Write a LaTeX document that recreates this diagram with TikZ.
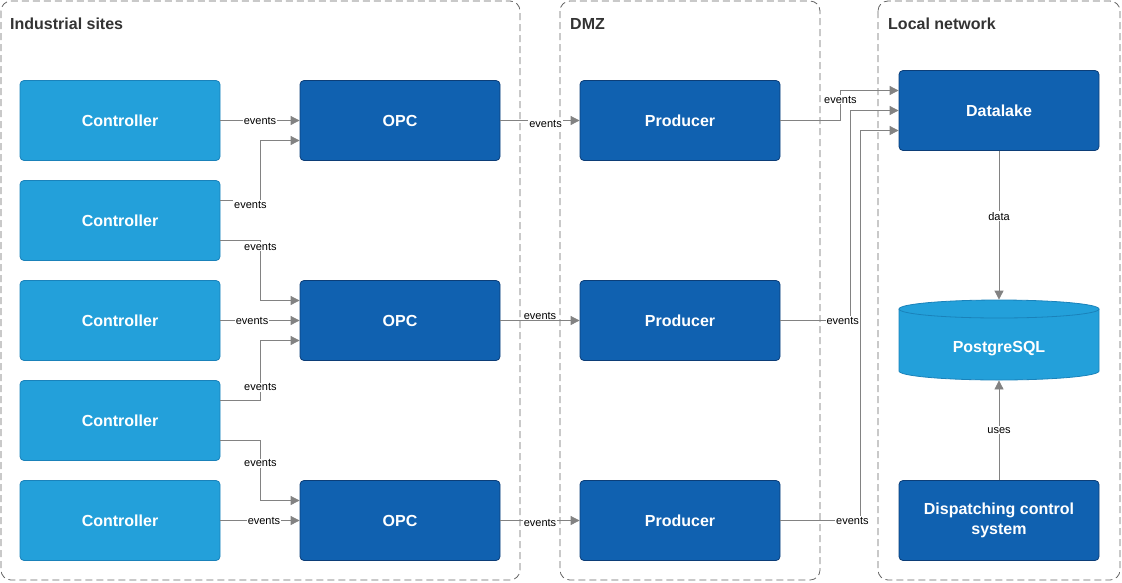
\documentclass[tikz,border=0pt]{standalone}
\usepackage{fontspec}
\setmainfont{Liberation Sans}
\usetikzlibrary{arrows.meta}

\definecolor{ctrlfill}{HTML}{23A0DA}
\definecolor{ctrlline}{HTML}{1A82BA}
\definecolor{svcfill}{HTML}{1061B0}
\definecolor{svcline}{HTML}{0C3E78}
\definecolor{zoneline}{HTML}{666666}
\definecolor{titlegray}{HTML}{333333}
\definecolor{flowgray}{HTML}{828282}

\tikzset{
  box/.style={rectangle, rounded corners=4pt, minimum width=200pt, minimum height=80pt,
    text=white, align=center, line width=0.8pt, font=\fontsize{16}{20}\selectfont\bfseries},
  ctrl/.style={box, fill=ctrlfill, draw=ctrlline},
  svc/.style={box, fill=svcfill, draw=svcline},
  zone/.style={draw=zoneline, line width=0.8pt, dash pattern=on 7pt off 4pt, rounded corners=10pt},
  title/.style={anchor=west, inner sep=0pt, text=titlegray, font=\fontsize{16}{18}\selectfont\bfseries},
  flow/.style={draw=flowgray, line width=0.8pt, -{Triangle[length=9pt,width=9pt]}},
  lbl/.style={fill=white, inner sep=1pt, text=black, font=\fontsize{11}{13}\selectfont},
}

\begin{document}
\begin{tikzpicture}[x=1pt, y=-1pt]
		\useasboundingbox (0,0) rectangle (1122,582);
		% zones
		\draw[zone] (1,1) rectangle (520,580);
		\draw[zone] (560,1) rectangle (820,580);
		\draw[zone] (878,1) rectangle (1120,580);
		\node[title] (tind) at (10,24) {Industrial sites};
		\node[title] (tdmz) at (570,24) {DMZ};
		\node[title] (tloc) at (888,24) {Local network};
		% controllers
		\node[ctrl] (c1) at (120,120.5) {Controller};
		\node[ctrl] (c2) at (120,220.5) {Controller};
		\node[ctrl] (c3) at (120,320.5) {Controller};
		\node[ctrl] (c4) at (120,420.5) {Controller};
		\node[ctrl] (c5) at (120,520.5) {Controller};
		% opc and producers
		\node[svc] (opc1) at (400,120.5) {OPC};
		\node[svc] (opc2) at (400,320.5) {OPC};
		\node[svc] (opc3) at (400,520.5) {OPC};
		\node[svc] (p1) at (680,120.5) {Producer};
		\node[svc] (p2) at (680,320.5) {Producer};
		\node[svc] (p3) at (680,520.5) {Producer};
		% local network
		\node[svc] (dl) at (999,110.5) {Datalake};
		\node[svc] (dcs) at (999,520.5) {Dispatching control\\system};
		\fill[ctrlfill] (899,309) -- (899,371) arc[start angle=180, end angle=360, x radius=100pt, y radius=9pt]
			-- (1099,309) arc[start angle=0, end angle=180, x radius=100pt, y radius=9pt] -- cycle;
		\draw[ctrlline, line width=0.8pt] (899,309) -- (899,371) arc[start angle=180, end angle=360, x radius=100pt, y radius=9pt]
			-- (1099,309) arc[start angle=0, end angle=180, x radius=100pt, y radius=9pt];
		\draw[ctrlline, line width=0.8pt] (899,309) arc[start angle=180, end angle=360, x radius=100pt, y radius=9pt];
		\node[box, minimum height=80pt] (pg) at (999,340) {};
		\node[box, minimum height=0pt, minimum width=0pt] (pgname) at (999,349) {PostgreSQL};
		% controllers to opc
		\draw[flow] (c1) -- node[lbl]{events} (opc1);
		\draw[flow] ([yshift=20pt]c2.east) -- node[lbl, pos=0.75, yshift=-4pt]{events} ++(40,0) |- ([yshift=-20pt]opc1.west);
		\draw[flow] ([yshift=-20pt]c2.east) -- ++(40,0) node[lbl, yshift=-6pt]{events} |- ([yshift=20pt]opc2.west);
		\draw[flow] (c3) -- node[lbl, pos=0.4]{events} (opc2);
		\draw[flow] ([yshift=20pt]c4.east) -- ++(40,0) |- node[lbl, pos=0.11]{events} ([yshift=-20pt]opc2.west);
		\draw[flow] ([yshift=-20pt]c4.east) -- ++(40,0) |- node[lbl, pos=0.19]{events} ([yshift=20pt]opc3.west);
		\draw[flow] (c5) -- node[lbl, pos=0.55]{events} (opc3);
		% opc to producers
		\draw[flow] (opc1) -- node[lbl, pos=0.57, yshift=-3pt]{events} (p1);
		\draw[flow] (opc2) -- node[lbl, yshift=5pt]{events} (p2);
		\draw[flow] (opc3) -- node[lbl, yshift=-2pt]{events} (p3);
		% producers to datalake
		\draw[flow] (p1.east) -- ++(60,0) |- node[lbl, pos=0.35]{events} ([yshift=20pt]dl.west);
		\draw[flow] (p2.east) -- node[lbl, pos=0.89]{events} ++(70,0) |- (dl.west);
		\draw[flow] (p3.east) -- node[lbl, pos=0.9]{events} ++(80,0) |- ([yshift=-20pt]dl.west);
		% storage
		\draw[flow] (dl) -- node[lbl, pos=0.44]{data} (pg);
		\draw[flow] (dcs) -- node[lbl]{uses} (pg);
		\end{tikzpicture}
\end{document}
